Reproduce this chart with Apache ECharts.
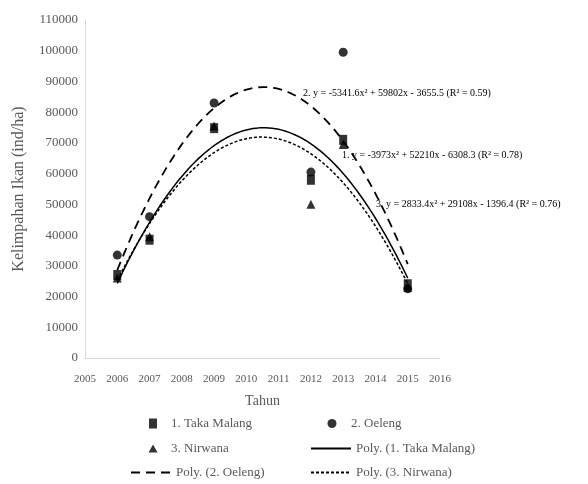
<!DOCTYPE html>
<html>
<head>
<meta charset="utf-8">
<script src="https://cdn.jsdelivr.net/npm/echarts@6/dist/echarts.min.js"></script>
<style>
  html, body { margin: 0; padding: 0; background: #fff; }
  #chart { width: 588px; height: 484px; }
</style>
</head>
<body>
<div id="chart"></div>
<script>
// Survey years and fish abundance (ind/ha) per site
const years = [2006, 2007, 2009, 2012, 2013, 2015];
const takaMalang = [27000, 38500, 74800, 58000, 71000, 24000];
const oeleng = [33500, 46000, 83000, 60500, 99500, 22500];
const nirwana = [26000, 39500, 75500, 50000, 69500, 23000];

const seriesNames = ['1. Taka Malang', '2. Oeleng', '3. Nirwana'];
const trendNames = ['Poly. (1. Taka Malang)', 'Poly. (2. Oeleng)', 'Poly. (3. Nirwana)'];
const equationTexts = [
  '1. y = -3973x\u00B2 + 52210x - 6308.3 (R\u00B2 = 0.78)',
  '2. y = -5341.6x\u00B2 + 59802x - 3655.5 (R\u00B2 = 0.59)',
  '3. y = 2833.4x\u00B2 + 29108x - 1396.4 (R\u00B2 = 0.76)'
];

// Least-squares quadratic fit (centred on 2010 for numerical stability)
function quadFit(xs, ys) {
  const x0 = 2010;
  let s0 = 0, s1 = 0, s2 = 0, s3 = 0, s4 = 0, t0 = 0, t1 = 0, t2 = 0;
  xs.forEach((xv, i) => {
    const x = xv - x0, y = ys[i];
    s0 += 1; s1 += x; s2 += x * x; s3 += x * x * x; s4 += x * x * x * x;
    t0 += y; t1 += x * y; t2 += x * x * y;
  });
  const M = [[s0, s1, s2, t0], [s1, s2, s3, t1], [s2, s3, s4, t2]];
  for (let c = 0; c < 3; c++) {
    for (let r = c + 1; r < 3; r++) {
      const f = M[r][c] / M[c][c];
      for (let k = c; k < 4; k++) M[r][k] -= f * M[c][k];
    }
  }
  const coef = [0, 0, 0];
  for (let r = 2; r >= 0; r--) {
    let v = M[r][3];
    for (let k = r + 1; k < 3; k++) v -= M[r][k] * coef[k];
    coef[r] = v / M[r][r];
  }
  return (xv) => { const x = xv - x0; return coef[0] + coef[1] * x + coef[2] * x * x; };
}

// Sample the fitted curve between the first and last survey year
function trendPoints(ys) {
  const f = quadFit(years, ys);
  const pts = [];
  const a = years[0], b = years[years.length - 1];
  const steps = 180;
  for (let i = 0; i <= steps; i++) {
    const x = a + (b - a) * i / steps;
    pts.push([x, f(x)]);
  }
  return pts;
}

const pair = (ys) => years.map((y, i) => [y, ys[i]]);

const font = '"Liberation Serif", "Times New Roman", serif';
const textColor = '#595959';

const chart = echarts.init(document.getElementById('chart'), null, { renderer: 'canvas' });

function markerLegend(name, centerX, centerY, w, h, textX) {
  return {
    data: [name], left: centerX - w / 2, top: centerY - 8, orient: 'horizontal',
    itemWidth: w, itemHeight: h, itemGap: 0, selectedMode: false,
    textStyle: { fontFamily: font, fontSize: 13, color: textColor, padding: [0, 0, 0, textX - (centerX + w / 2 + 5)] }
  };
}
function lineLegend(name, left, centerY) {
  return {
    data: [name], left: left, top: centerY - 8, orient: 'horizontal',
    itemWidth: 40, itemHeight: 14, itemGap: 0, selectedMode: false,
    itemStyle: { opacity: 0 },
    textStyle: { fontFamily: font, fontSize: 13, color: textColor }
  };
}

chart.setOption({
  animation: false,
  backgroundColor: '#fff',
  grid: { left: 85, right: 148, top: 20, bottom: 126, containLabel: false },
  xAxis: {
    type: 'value', min: 2005, max: 2016, interval: 1,
    name: 'Tahun', nameLocation: 'middle', nameGap: 36,
    nameTextStyle: { fontFamily: font, fontSize: 14, color: textColor },
    axisLine: { show: true, lineStyle: { color: '#d9d9d9', width: 1 } },
    axisTick: { show: false },
    splitLine: { show: false },
    axisLabel: { fontFamily: font, fontSize: 11, color: textColor, margin: 16, formatter: (v) => String(v) }
  },
  yAxis: {
    type: 'value', min: 0, max: 110000, interval: 10000,
    name: 'Kelimpahan Ikan (ind/ha)', nameLocation: 'middle', nameGap: 58, nameRotate: 90,
    nameTextStyle: { fontFamily: font, fontSize: 16, color: textColor },
    axisLine: { show: true, lineStyle: { color: '#d9d9d9', width: 1 } },
    axisTick: { show: false },
    splitLine: { show: false },
    axisLabel: { fontFamily: font, fontSize: 13, color: textColor, margin: 7, formatter: (v) => String(v) }
  },
  legend: [
    markerLegend(seriesNames[0], 148, 420, 8, 10, 166),
    markerLegend(seriesNames[1], 327, 420, 9, 9, 346),
    markerLegend(seriesNames[2], 148, 445, 9, 8, 166),
    lineLegend(trendNames[0], 305, 445),
    lineLegend(trendNames[1], 125, 469),
    lineLegend(trendNames[2], 305, 469)
  ],
  series: [
    {
      name: trendNames[0], type: 'line', data: trendPoints(takaMalang),
      showSymbol: false, symbol: 'none', silent: true,
      lineStyle: { color: '#000', width: 1.5, type: 'solid' }, itemStyle: { color: '#000' }
    },
    {
      name: trendNames[1], type: 'line', data: trendPoints(oeleng),
      showSymbol: false, symbol: 'none', silent: true,
      lineStyle: { color: '#000', width: 1.8, type: [9, 6] }, itemStyle: { color: '#000' }
    },
    {
      name: trendNames[2], type: 'line', data: trendPoints(nirwana),
      showSymbol: false, symbol: 'none', silent: true,
      lineStyle: { color: '#000', width: 1.5, type: [3, 2] }, itemStyle: { color: '#000' }
    },
    {
      name: seriesNames[0], type: 'scatter', data: pair(takaMalang),
      symbol: 'rect', symbolSize: [8, 10], itemStyle: { color: '#000' }
    },
    {
      name: seriesNames[1], type: 'scatter', data: pair(oeleng),
      symbol: 'circle', symbolSize: 9, itemStyle: { color: '#000' }
    },
    {
      name: seriesNames[2], type: 'scatter', data: pair(nirwana),
      symbol: 'triangle', symbolSize: 9, itemStyle: { color: '#000' }
    }
  ],
  graphic: [
    { type: 'text', left: 303, top: 88, style: { text: equationTexts[1], font: '10px ' + font, fill: '#000' } },
    { type: 'text', left: 342, top: 150, style: { text: equationTexts[0], font: '10px ' + font, fill: '#000' } },
    { type: 'text', left: 376, top: 199, style: { text: equationTexts[2], font: '10px ' + font, fill: '#000' } }
  ]
});
</script>
</body>
</html>
